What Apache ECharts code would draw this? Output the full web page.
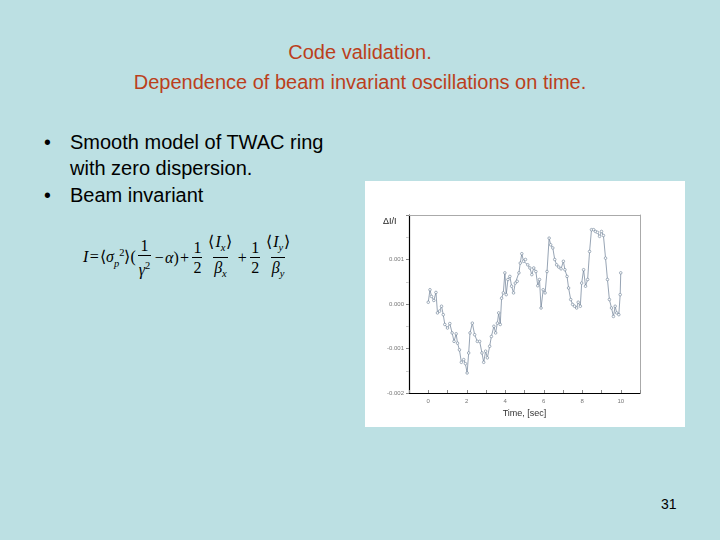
<!DOCTYPE html>
<html><head><meta charset="utf-8">
<script src="https://cdn.jsdelivr.net/npm/echarts@6/dist/echarts.min.js"></script>
<style>
html,body{margin:0;padding:0;width:720px;height:540px;background:#bce0e3;overflow:hidden;font-family:"Liberation Sans",Arial,sans-serif;}
.t{position:absolute;left:0;width:720px;text-align:center;color:#bb3f1c;font-size:20px;line-height:24px;}
.b{position:absolute;font-size:20px;color:#000;line-height:24px;white-space:nowrap;}
.dot{position:absolute;font-size:19.5px;line-height:24px;}
#chart{position:absolute;left:365px;top:181px;width:320px;height:246px;background:#fff;}
#pn{position:absolute;left:661px;top:496px;font-size:14px;color:#000;}
#f{position:absolute;left:83px;top:232px;font-family:"Liberation Serif","Times New Roman",serif;font-size:16px;font-style:italic;white-space:nowrap;color:#000;display:flex;align-items:center;}
.fr{display:inline-flex;flex-direction:column;align-items:center;margin:0 2px;line-height:19px;}
.fr span{padding:0 1px;}
.n{font-style:normal;}
sub,sup{font-size:10.5px;}
</style></head>
<body>
<div class="t" style="top:40px">Code validation.</div>
<div class="t" style="top:70px">Dependence of beam invariant oscillations on time.</div>
<div class="dot" style="left:44px;top:130px">•</div>
<div class="b" style="left:70px;top:130px">Smooth model of TWAC ring</div>
<div class="b" style="left:70px;top:156px">with zero dispersion.</div>
<div class="dot" style="left:44px;top:183px">•</div>
<div class="b" style="left:70px;top:183px">Beam invariant</div>
<div id="f">
<span>I<span class="n">&#8202;=&#8202;</span><span class="n">&#10216;</span>σ<sub>p</sub><sup class="n">2</sup><span class="n">&#10217;(</span></span>
<span class="fr"><span class="n">1</span><span style="border-top:1px solid #000">γ<sup class="n">2</sup></span></span>
<span><span class="n">&#8202;−&#8202;</span>α<span class="n">)&#8202;+&#8202;</span></span>
<span class="fr"><span class="n">1</span><span class="n" style="border-top:1px solid #000">2</span></span>
<span class="fr"><span><span class="n">&#10216;</span>I<sub>x</sub><span class="n">&#10217;</span></span><span style="border-top:1px solid #000">β<sub>x</sub></span></span>
<span class="n">&#8202;+&#8202;</span>
<span class="fr"><span class="n">1</span><span class="n" style="border-top:1px solid #000">2</span></span>
<span class="fr"><span><span class="n">&#10216;</span>I<sub>y</sub><span class="n">&#10217;</span></span><span style="border-top:1px solid #000">β<sub>y</sub></span></span>
</div>
<div id="chart"></div>
<div id="pn">31</div>
<script>
const times = [0,0.09,0.17,0.29,0.4,0.48,0.59,0.69,0.78,0.86,1.0,1.12,1.24,1.34,1.45,1.52,1.62,1.72,1.84,1.93,2.02,2.1,2.17,2.29,2.41,2.55,2.67,2.79,2.88,2.98,3.07,3.19,3.28,3.41,3.5,3.59,3.66,3.74,3.81,3.9,3.98,4.05,4.14,4.24,4.33,4.43,4.52,4.62,4.71,4.78,4.86,4.95,5.05,5.17,5.28,5.38,5.48,5.59,5.69,5.78,5.86,5.97,6.07,6.17,6.28,6.36,6.47,6.57,6.67,6.78,6.9,7.02,7.1,7.21,7.29,7.4,7.5,7.6,7.71,7.79,7.9,7.97,8.07,8.17,8.28,8.38,8.48,8.59,8.69,8.79,8.9,9.0,9.1,9.21,9.31,9.41,9.52,9.62,9.71,9.79,9.9,9.97,10.0];
const dInv = [0.00004,0.00032,0.00017,0.00008,0.00026,-0.0002,-0.00016,-0.00005,-0.00024,-0.00046,-0.00054,-0.00044,-0.00065,-0.00084,-0.00067,-0.00088,-0.00103,-0.00131,-0.00125,-0.00134,-0.00155,-0.0011,-0.00065,-0.00043,-0.00069,-0.00084,-0.00084,-0.0011,-0.00131,-0.00106,-0.00121,-0.00095,-0.00073,-0.0005,-0.00065,-0.00043,-0.0002,-0.00046,0.00013,0.00025,0.0007,0.00021,0.00055,0.00062,0.0004,0.00025,0.00047,0.00051,0.0007,0.00092,0.00113,0.00096,0.001,0.00088,0.00081,0.00066,0.00081,0.00073,0.00041,0.00055,-0.00009,0.00032,0.00025,0.00073,0.00148,0.00133,0.00126,0.001,0.00088,0.00083,0.00079,0.00096,0.00077,0.00062,0.00036,0.0001,-0.00001,-0.00005,-0.00009,0.00004,-0.00005,0.00047,0.00077,0.0004,0.00055,0.00118,0.00167,0.00167,0.00163,0.00161,0.00152,0.00163,0.00154,0.00103,0.00055,0.0001,-0.00009,-0.00028,-0.00005,-0.0002,-0.00024,0.00021,0.0007];
const xLabels = [0,2,4,6,8,10];
const yLabels = ['0.001','0.000','-0.001','-0.002'];

const chart = echarts.init(document.getElementById('chart'), null, {renderer:'canvas'});
chart.setOption({
  animation:false,
  backgroundColor:'#fff',
  grid:{left:44,top:34,right:45,bottom:34},
  graphic:[
    {type:'text',left:18,top:36,style:{text:'ΔI/I',font:'9px "Liberation Sans", Arial',fill:'#222'}}
  ],
  xAxis:[{
    type:'value',min:-1,max:11,interval:1,
    name:'Time, [sec]',nameLocation:'middle',nameGap:16,
    nameTextStyle:{fontSize:9,color:'#333',fontFamily:'Liberation Sans'},
    axisLine:{onZero:false,lineStyle:{color:'#000',width:1}},
    axisTick:{inside:true,length:3,lineStyle:{color:'#888'}},
    axisLabel:{fontSize:6,color:'#777',margin:5,
      formatter:v=>xLabels.indexOf(Math.round(v))>=0 && Math.abs(v-Math.round(v))<1e-6 ? String(Math.round(v)) : ''},
    splitLine:{show:false}
  },{
    type:'value',min:-1,max:11,position:'top',
    axisLine:{show:true,onZero:false,lineStyle:{color:'#aaa',width:1}},
    axisTick:{show:false},axisLabel:{show:false},splitLine:{show:false}
  }],
  yAxis:[{
    type:'value',min:-0.002,max:0.002,interval:0.001,
    axisLine:{show:true,onZero:false,lineStyle:{color:'#000',width:1.2}},
    axisTick:{show:true,inside:false,length:3,lineStyle:{color:'#888'}},
    minorTick:{show:true,splitNumber:2,length:3,lineStyle:{color:'#ccc'}},
    axisLabel:{fontSize:6,color:'#777',margin:5,
      formatter:v=>{const k=Math.round(v*1000);const s=(k/1000).toFixed(3);return yLabels.indexOf(s)>=0?s:'';}},
    splitLine:{show:false}
  },{
    type:'value',min:-0.002,max:0.002,position:'right',
    axisLine:{show:true,onZero:false,lineStyle:{color:'#aaa',width:1}},
    axisTick:{show:false},axisLabel:{show:false},splitLine:{show:false}
  }],
  series:[{
    type:'line',
    xAxisIndex:0,yAxisIndex:0,
    data:times.map((t,i)=>[t,dInv[i]]),
    symbol:'circle',symbolSize:2.6,showSymbol:true,
    lineStyle:{color:'#6a7d94',width:0.7},
    itemStyle:{color:'#ffffff',borderColor:'#6a7d94',borderWidth:0.6}
  }]
});
</script>
</body></html>
